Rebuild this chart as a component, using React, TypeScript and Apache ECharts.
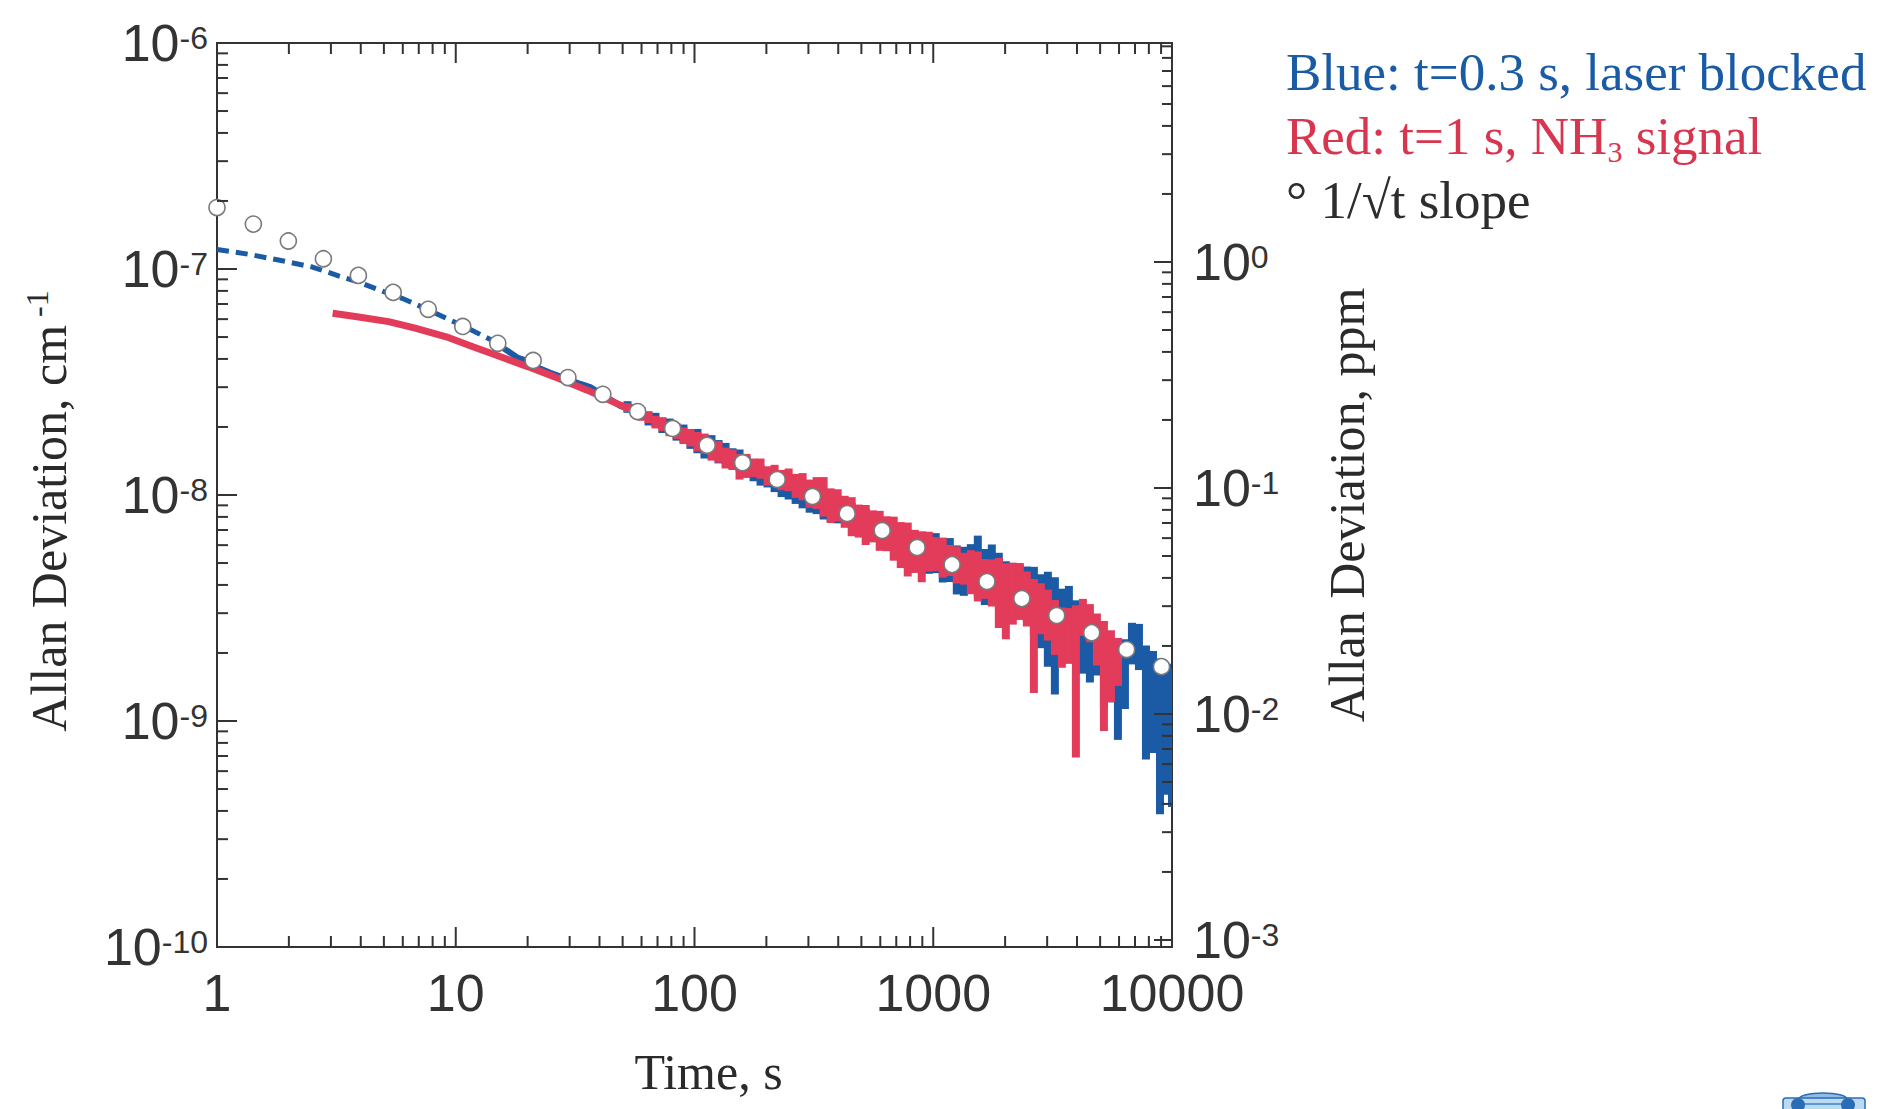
import React, { useEffect, useRef } from 'react';
import * as echarts from 'echarts';

const X_MIN = 1;
const X_MAX = 10000;
const Y_MIN = 1e-10;
const Y_MAX = 1e-6;
const PPM_MIN = 9.31e-4;
const PPM_MAX = 9.31;

const xTickLabels = ['1', '10', '100', '1000', '10000'];
const leftTickExponents = ['-10', '-9', '-8', '-7', '-6'];
const rightTickExponents = ['-3', '-2', '-1', '0'];

const legendLines = ['Blue: t=0.3 s, laser blocked', 'Red: t=1 s, NH', '3', ' signal', '\u00b0 1/\u221at slope'];

// blue, t = 0.3 s, dashed early part [t, cm^-1]
const blueDashed = [
  [1.0, 1.22e-7], [1.37, 1.16e-7], [1.94, 1.08e-7], [2.51, 1.02e-7], [3.25, 9.3e-8], [3.86, 8.8e-8],
  [4.8, 8.07e-8], [5.95, 7.42e-8], [7.71, 6.59e-8], [9.12, 6.05e-8], [10.9, 5.56e-8], [14.1, 4.85e-8],
];
// blue solid part before the noisy band
const blueLine = [
  [14.1, 4.85e-8], [18.1, 4.06e-8], [19.9, 3.92e-8], [21.9, 3.67e-8], [24.9, 3.47e-8], [28.2, 3.31e-8],
  [33.3, 3.1e-8], [36.6, 3.0e-8], [43.1, 2.7e-8], [48.9, 2.48e-8], [52.4, 2.41e-8],
];
// red, t = 1 s, smooth early part
const redLine = [
  [3.05, 6.37e-8], [3.86, 6.15e-8], [5.23, 5.85e-8], [6.76, 5.47e-8], [9.12, 5.01e-8], [11.8, 4.53e-8],
  [15.4, 4.09e-8], [20.0, 3.7e-8], [25.8, 3.34e-8], [35.5, 2.91e-8], [40.4, 2.74e-8], [48.9, 2.5e-8], [52.4, 2.43e-8],
];
// noisy part: [t, low, high]
const redBand = [
  [52.4, 2.33e-8, 2.55e-8], [56.0, 2.23e-8, 2.49e-8], [59.9, 2.13e-8, 2.38e-8], [64.2, 2.08e-8, 2.35e-8],
  [68.6, 1.97e-8, 2.24e-8], [73.4, 1.92e-8, 2.21e-8], [78.6, 1.82e-8, 2.11e-8], [84.1, 1.77e-8, 2.08e-8],
  [89.9, 1.68e-8, 1.99e-8], [96.2, 1.64e-8, 1.96e-8], [102.9, 1.56e-8, 1.9e-8], [110.1, 1.52e-8, 1.87e-8],
  [117.8, 1.42e-8, 1.75e-8], [126.1, 1.39e-8, 1.73e-8], [134.9, 1.31e-8, 1.62e-8], [144.3, 1.29e-8, 1.59e-8],
  [154.4, 1.17e-8, 1.52e-8], [165.2, 1.19e-8, 1.52e-8], [176.8, 1.2e-8, 1.45e-8], [189.1, 1.18e-8, 1.45e-8],
  [202.3, 1.1e-8, 1.34e-8], [216.5, 1.11e-8, 1.36e-8], [231.6, 1.05e-8, 1.29e-8], [247.9, 1.04e-8, 1.31e-8],
  [265.2, 9.71e-9, 1.24e-8], [283.7, 9.47e-9, 1.25e-8], [303.6, 8.78e-9, 1.17e-8], [324.8, 8.66e-9, 1.2e-8],
  [347.5, 8.03e-9, 1.2e-8], [371.8, 7.52e-9, 1.07e-8], [397.8, 7.64e-9, 1.06e-8], [425.6, 7.16e-9, 9.92e-9],
  [455.4, 6.57e-9, 9.78e-9], [487.2, 6.48e-9, 9.07e-9], [521.2, 6.01e-9, 9.03e-9], [557.7, 6.17e-9, 8.55e-9],
  [596.7, 5.66e-9, 8.51e-9], [638.4, 5.64e-9, 8.05e-9], [683.0, 5.12e-9, 8.02e-9], [730.8, 4.75e-9, 7.59e-9],
  [781.9, 4.36e-9, 7.55e-9], [836.5, 4.52e-9, 7.01e-9], [895.0, 4.11e-9, 6.91e-9], [957.6, 4.58e-9, 6.88e-9],
  [1024, 4.61e-9, 6.51e-9], [1096, 4.31e-9, 6.48e-9], [1173, 4.38e-9, 6.01e-9], [1255, 4.06e-9, 5.92e-9],
  [1343, 4.01e-9, 5.55e-9], [1437, 3.64e-9, 5.7e-9], [1537, 3.38e-9, 5.62e-9], [1644, 3.47e-9, 5.21e-9],
  [1759, 3.21e-9, 5.19e-9], [1882, 2.58e-9, 5.27e-9], [2014, 2.3e-9, 4.99e-9], [2154, 2.67e-9, 5.02e-9],
  [2305, 2.8e-9, 5.0e-9], [2466, 2.62e-9, 4.59e-9], [2639, 1.33e-9, 4.25e-9], [2823, 2.42e-9, 4.07e-9],
  [3020, 2.27e-9, 3.81e-9], [3232, 1.96e-9, 3.43e-9], [3457, 1.72e-9, 3.18e-9], [3699, 1.79e-9, 3.16e-9],
  [3958, 6.9e-10, 3.25e-9], [4234, 2.38e-9, 3.47e-9], [4530, 2.23e-9, 3.29e-9], [4847, 1.76e-9, 2.99e-9],
  [5186, 9.03e-10, 2.77e-9], [5548, 1.21e-9, 2.52e-9], [5936, 1.43e-9, 2.33e-9],
];
const blueBand = [
  [52.4, 2.31e-8, 2.6e-8], [56.0, 2.25e-8, 2.52e-8], [59.9, 2.15e-8, 2.45e-8], [64.2, 2.03e-8, 2.32e-8],
  [68.6, 2.01e-8, 2.31e-8], [73.4, 1.88e-8, 2.19e-8], [78.6, 1.85e-8, 2.18e-8], [84.1, 1.74e-8, 2.06e-8],
  [89.9, 1.71e-8, 2.05e-8], [96.2, 1.6e-8, 1.94e-8], [102.9, 1.53e-8, 1.96e-8], [110.1, 1.45e-8, 1.85e-8],
  [117.8, 1.46e-8, 1.84e-8], [126.1, 1.38e-8, 1.75e-8], [134.9, 1.37e-8, 1.7e-8], [144.3, 1.3e-8, 1.61e-8],
  [154.4, 1.27e-8, 1.59e-8], [165.2, 1.2e-8, 1.49e-8], [176.8, 1.15e-8, 1.41e-8], [189.1, 1.1e-8, 1.35e-8],
  [202.3, 1.08e-8, 1.33e-8], [216.5, 1.03e-8, 1.24e-8], [231.6, 9.79e-9, 1.21e-8], [247.9, 9.55e-9, 1.15e-8],
  [265.2, 9.13e-9, 1.12e-8], [283.7, 8.73e-9, 1.05e-8], [303.6, 8.35e-9, 1.02e-8], [324.8, 8.23e-9, 9.59e-9],
  [347.5, 7.79e-9, 9.45e-9], [371.8, 7.6e-9, 9.31e-9], [397.8, 7.49e-9, 9.18e-9], [425.6, 7.54e-9, 9.24e-9],
  [455.4, 7.43e-9, 9.2e-9], [487.2, 6.89e-9, 8.71e-9], [521.2, 6.79e-9, 8.67e-9], [557.7, 6.62e-9, 8.2e-9],
  [596.7, 6.2e-9, 8.01e-9], [638.4, 6.12e-9, 7.89e-9], [683.0, 5.79e-9, 7.54e-9], [730.8, 5.71e-9, 7.43e-9],
  [781.9, 5.29e-9, 6.89e-9], [836.5, 5.27e-9, 6.86e-9], [895.0, 4.99e-9, 6.7e-9], [957.6, 4.48e-9, 6.74e-9],
  [1024, 4.51e-9, 6.78e-9], [1096, 4.1e-9, 6.16e-9], [1173, 4.12e-9, 6.45e-9], [1255, 3.63e-9, 5.98e-9],
  [1343, 3.58e-9, 5.9e-9], [1437, 3.72e-9, 6.06e-9], [1537, 3.52e-9, 6.61e-9], [1644, 3.26e-9, 5.77e-9],
  [1759, 3.42e-9, 6.04e-9], [1882, 3.37e-9, 5.55e-9], [2014, 3.12e-9, 5.09e-9], [2154, 3.21e-9, 4.82e-9],
  [2305, 2.97e-9, 4.9e-9], [2466, 2.76e-9, 4.83e-9], [2639, 2.4e-9, 4.81e-9], [2823, 2.1e-9, 4.46e-9],
  [3020, 1.74e-9, 4.58e-9], [3232, 1.31e-9, 4.33e-9], [3457, 1.99e-9, 3.85e-9], [3699, 2.02e-9, 3.96e-9],
  [3958, 2.16e-9, 3.42e-9], [4234, 1.62e-9, 3.01e-9], [4530, 1.48e-9, 2.79e-9], [4847, 1.59e-9, 2.64e-9],
  [5186, 1.13e-9, 2.43e-9], [5548, 1.21e-9, 2.23e-9], [5936, 8.25e-10, 1.68e-9], [6351, 1.13e-9, 2.3e-9],
  [6795, 1.78e-9, 2.72e-9], [7270, 1.68e-9, 2.69e-9], [7780, 6.76e-10, 2.16e-9], [8324, 7.22e-10, 2.04e-9],
  [8906, 3.87e-10, 1.89e-9], [9529, 4.72e-10, 1.79e-9], [10000, 4.16e-10, 1.71e-9],
];
// 1/sqrt(t) reference circles
const slopeT = [1.0, 1.42, 1.99, 2.79, 3.91, 5.47, 7.67, 10.7, 15.0, 21.1, 29.5, 41.3, 57.8, 81.0, 113, 159, 222,
  312, 436, 611, 856, 1199, 1679, 2350, 3290, 4610, 6455, 9040];
const slopeY = [1.87e-7, 1.58e-7, 1.33e-7, 1.11e-7, 9.37e-8, 7.88e-8, 6.63e-8, 5.57e-8, 4.69e-8, 3.94e-8, 3.31e-8,
  2.79e-8, 2.34e-8, 1.97e-8, 1.66e-8, 1.39e-8, 1.17e-8, 9.85e-9, 8.28e-9, 6.97e-9, 5.86e-9, 4.92e-9, 4.14e-9,
  3.48e-9, 2.93e-9, 2.46e-9, 2.07e-9, 1.74e-9];

const BLUE = '#1b5aa5';
const RED = '#e23c5a';
const INK = '#333333';
const SANS = 'Liberation Sans, Arial, sans-serif';
const SERIF = 'Liberation Serif, Times New Roman, serif';

function logTicks(lo: number, hi: number, minExp: number, maxExp: number) {
  const out: number[][] = [];
  for (let e = minExp; e <= maxExp; e++) {
    for (let m = 1; m <= 9; m++) {
      const v = m * Math.pow(10, e);
      if (v >= lo * 0.999 && v <= hi * 1.001) out.push([v, m === 1 ? 1 : 0]);
    }
  }
  return out;
}

export default function App() {
  const ref = useRef<HTMLDivElement>(null);
  useEffect(() => {
    document.body.style.margin = '0';
    document.body.style.overflow = 'hidden';
    if (!ref.current) return;
    const chart = echarts.init(ref.current, null, { renderer: 'svg' });

    const xt = logTicks(X_MIN, X_MAX, 0, 4);
    const yt = logTicks(Y_MIN, Y_MAX, -10, -6);
    const rt = logTicks(PPM_MIN, PPM_MAX, -4, 0);

    const tickStyle = { stroke: INK, lineWidth: 2 };
    const nearPow = (v: number) => {
      const l = Math.log10(v);
      const e = Math.round(l);
      return Math.abs(l - e) < 0.02 ? e : null;
    };

    const band = (color: string) => (params: any, api: any) => {
      const t = api.value(0);
      const lo = api.coord([t, api.value(1)]);
      const hi = api.coord([t, api.value(2)]);
      return {
        type: 'rect',
        shape: { x: lo[0] - 4, y: hi[1], width: 8, height: Math.max(1, lo[1] - hi[1]) },
        style: { fill: color },
      };
    };

    const labelRich = {
      b: { fontFamily: SANS, fontSize: 52, lineHeight: 42, color: INK },
      e: { fontFamily: SANS, fontSize: 32, lineHeight: 18, verticalAlign: 'top', color: INK },
    };

    const option: any = {
      animation: false,
      backgroundColor: '#ffffff',
      grid: {
        left: 217, right: 715, top: 43, bottom: 162,
        show: true, borderColor: INK, borderWidth: 2, backgroundColor: 'transparent',
        containLabel: false, outerBoundsMode: 'none',
      },
      xAxis: [{
        type: 'log', logBase: 10, min: X_MIN, max: X_MAX, position: 'bottom',
        axisLine: { show: false }, axisTick: { show: false }, splitLine: { show: false }, minorTick: { show: false },
        axisLabel: {
          margin: 25, fontFamily: SANS, fontSize: 52, lineHeight: 42, color: INK,
          formatter: (v: number) => { const e = nearPow(v); return e === null ? '' : (xTickLabels[e] ?? ''); },
        },
        name: 'Time, s', nameLocation: 'middle', nameGap: 100,
        nameTextStyle: { fontFamily: SERIF, fontSize: 50, color: '#2a2a2a', padding: [0, 0, 0, 28] },
      }],
      yAxis: [{
        type: 'log', logBase: 10, min: Y_MIN, max: Y_MAX, position: 'left',
        axisLine: { show: false }, axisTick: { show: false }, splitLine: { show: false }, minorTick: { show: false },
        axisLabel: {
          margin: 9, color: INK,
          formatter: (v: number) => {
            const e = nearPow(v);
            if (e === null) return '';
            return '{b|10}{e|' + (leftTickExponents[e + 10] ?? '') + '}';
          },
          rich: labelRich,
        },
        name: '{a|Allan Deviation, cm}{s| -1}', nameLocation: 'middle', nameRotate: 90, nameGap: 140,
        nameTextStyle: {
          padding: [0, 32, 0, 0],
          rich: {
            a: { fontFamily: SERIF, fontSize: 50, lineHeight: 56, color: '#2a2a2a' },
            s: { fontFamily: SERIF, fontSize: 32, lineHeight: 30, verticalAlign: 'top', color: '#2a2a2a' },
          },
        },
      }, {
        type: 'log', logBase: 10, min: PPM_MIN, max: PPM_MAX, position: 'right',
        axisLine: { show: false }, axisTick: { show: false }, splitLine: { show: false }, minorTick: { show: false },
        axisLabel: {
          margin: 21, color: INK, showMinLabel: false, showMaxLabel: false,
          formatter: (v: number) => {
            const e = nearPow(v);
            if (e === null) return '';
            return '{b|10}{e|' + (rightTickExponents[e + 3] ?? '') + '}';
          },
          rich: labelRich,
        },
        name: 'Allan Deviation, ppm', nameLocation: 'middle', nameRotate: 90, nameGap: 150,
        nameTextStyle: { fontFamily: SERIF, fontSize: 50, color: '#2a2a2a', padding: [0, 20, 0, 0] },
      }],
      series: [
        {
          type: 'line', name: 'blue dashed', data: blueDashed, showSymbol: false, symbol: 'none', z: 2,
          lineStyle: { color: BLUE, width: 5, type: [12, 7] },
        },
        {
          type: 'line', name: 'blue', data: blueLine, showSymbol: false, symbol: 'none', z: 2,
          lineStyle: { color: BLUE, width: 6 },
        },
        {
          type: 'custom', name: 'blue band', data: blueBand, encode: { x: 0, y: [1, 2] }, clip: true, z: 2,
          renderItem: band(BLUE),
        },
        {
          type: 'line', name: 'red', data: redLine, showSymbol: false, symbol: 'none', z: 3,
          lineStyle: { color: RED, width: 7 },
        },
        {
          type: 'custom', name: 'red band', data: redBand, encode: { x: 0, y: [1, 2] }, clip: true, z: 3,
          renderItem: band(RED),
        },
        {
          type: 'scatter', name: 'slope', data: slopeT.map((t, i) => [t, slopeY[i]]), symbol: 'circle',
          symbolSize: 16, clip: false, z: 5,
          itemStyle: { color: '#ffffff', borderColor: '#7a7a7a', borderWidth: 1.6, opacity: 1 },
        },
        {
          type: 'custom', name: 'x ticks', data: xt.map(([v, m]) => [v, Y_MIN, m]), encode: { x: 0, y: 1 }, z: 10,
          renderItem: (params: any, api: any) => {
            const v = api.value(0);
            const len = api.value(2) === 1 ? 20 : 11;
            const b = api.coord([v, Y_MIN]);
            const t = api.coord([v, Y_MAX]);
            return {
              type: 'group', children: [
                { type: 'line', shape: { x1: b[0], y1: b[1], x2: b[0], y2: b[1] - len }, style: tickStyle },
                { type: 'line', shape: { x1: t[0], y1: t[1], x2: t[0], y2: t[1] + len }, style: tickStyle },
              ],
            };
          },
        },
        {
          type: 'custom', name: 'left ticks', data: yt.map(([v, m]) => [X_MIN, v, m]), encode: { x: 0, y: 1 }, z: 10,
          renderItem: (params: any, api: any) => {
            const v = api.value(1);
            const len = api.value(2) === 1 ? 20 : 11;
            const p = api.coord([X_MIN, v]);
            return { type: 'line', shape: { x1: p[0], y1: p[1], x2: p[0] + len, y2: p[1] }, style: tickStyle };
          },
        },
        {
          type: 'custom', name: 'right ticks', yAxisIndex: 1, data: rt.map(([v, m]) => [X_MAX, v, m]),
          encode: { x: 0, y: 1 }, z: 10,
          renderItem: (params: any, api: any) => {
            const v = api.value(1);
            const len = api.value(2) === 1 ? 18 : 10;
            const p = api.coord([X_MAX, v]);
            return { type: 'line', shape: { x1: p[0], y1: p[1], x2: p[0] - len, y2: p[1] }, style: tickStyle };
          },
        },
      ],
      graphic: [
        {
          type: 'text', x: 1286, y: 72, z: 20,
          style: { text: legendLines[0], fontFamily: SERIF, fontSize: 53, fill: '#1a5ba6', align: 'left', verticalAlign: 'middle' },
        },
        {
          type: 'text', x: 1286, y: 136, z: 20,
          style: {
            text: '{a|' + legendLines[1] + '}{s|' + legendLines[2] + '}{a|' + legendLines[3] + '}',
            align: 'left', verticalAlign: 'middle',
            rich: {
              a: { fontFamily: SERIF, fontSize: 53, lineHeight: 60, fill: '#d8354f', color: '#d8354f' },
              s: { fontFamily: SERIF, fontSize: 30, lineHeight: 16, verticalAlign: 'bottom', fill: '#d8354f', color: '#d8354f' },
            },
          },
        },
        {
          type: 'text', x: 1286, y: 200, z: 20,
          style: { text: legendLines[4], fontFamily: SERIF, fontSize: 53, fill: '#2d2d2d', align: 'left', verticalAlign: 'middle' },
        },
        {
          type: 'group', z: 20, children: [
            { type: 'ellipse', shape: { cx: 1823, cy: 1099, rx: 24, ry: 6 }, style: { fill: '#8fbde6', stroke: '#2a6db5', lineWidth: 1.5 } },
            { type: 'rect', shape: { x: 1783, y: 1098, width: 82, height: 14, r: 3 }, style: { fill: '#bcd9f2', stroke: '#2a6db5', lineWidth: 1.5 } },
            { type: 'line', shape: { x1: 1795, y1: 1104, x2: 1855, y2: 1104 }, style: { stroke: '#5a9ad6', lineWidth: 2 } },
            { type: 'circle', shape: { cx: 1798, cy: 1105, r: 7 }, style: { fill: '#2a6db5' } },
            { type: 'circle', shape: { cx: 1848, cy: 1105, r: 7 }, style: { fill: '#2a6db5' } },
          ],
        },
      ],
    };

    chart.setOption(option);
    return () => chart.dispose();
  }, []);

  return <div ref={ref} style={{ width: 1887, height: 1109 }} />;
}
